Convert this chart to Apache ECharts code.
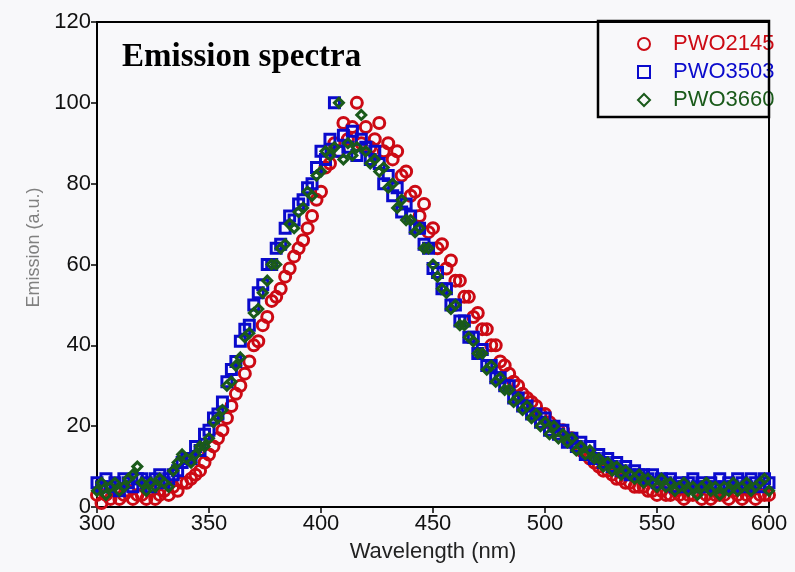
<!DOCTYPE html>
<html>
<head>
<meta charset="utf-8">
<script src="https://cdn.jsdelivr.net/npm/echarts@6/dist/echarts.min.js"></script>
<style>
html, body { margin: 0; padding: 0; background: #f8f8fa; }
#main { width: 795px; height: 572px; }
</style>
</head>
<body>
<div id="main"></div>
<script>
// wavelength (nm), one point every 2 nm
const wavelengths = [
  300, 302, 304, 306, 308, 310, 312, 314, 316, 318,
  320, 322, 324, 326, 328, 330, 332, 334, 336, 338,
  340, 342, 344, 346, 348, 350, 352, 354, 356, 358,
  360, 362, 364, 366, 368, 370, 372, 374, 376, 378,
  380, 382, 384, 386, 388, 390, 392, 394, 396, 398,
  400, 402, 404, 406, 408, 410, 412, 414, 416, 418,
  420, 422, 424, 426, 428, 430, 432, 434, 436, 438,
  440, 442, 444, 446, 448, 450, 452, 454, 456, 458,
  460, 462, 464, 466, 468, 470, 472, 474, 476, 478,
  480, 482, 484, 486, 488, 490, 492, 494, 496, 498,
  500, 502, 504, 506, 508, 510, 512, 514, 516, 518,
  520, 522, 524, 526, 528, 530, 532, 534, 536, 538,
  540, 542, 544, 546, 548, 550, 552, 554, 556, 558,
  560, 562, 564, 566, 568, 570, 572, 574, 576, 578,
  580, 582, 584, 586, 588, 590, 592, 594, 596, 598,
  600
]

const pwo2145 = [
  3, 1, 3, 2, 4, 2, 3, 4, 2, 3,
  3, 2, 4, 2, 3, 4, 3, 5, 4, 6,
  6, 7, 8, 9, 11, 13, 15, 17, 19, 22,
  25, 28, 30, 33, 36, 40, 41, 45, 47, 51,
  52, 54, 57, 59, 62, 64, 66, 69, 72, 76,
  78, 84, 85, 90, 88, 95, 91, 94, 100, 90,
  94, 89, 91, 95, 88, 90, 86, 88, 82, 83,
  77, 78, 72, 75, 68, 69, 64, 65, 59, 61,
  56, 56, 52, 52, 47, 48, 44, 44, 40, 40,
  36, 35, 33, 31, 30, 28, 27, 26, 25, 23,
  23, 21, 20, 19, 19, 17, 17, 15, 14, 13,
  12, 11, 10, 9, 9, 8, 7, 7, 6, 6,
  5, 5, 5, 4, 4, 3, 4, 3, 3, 4,
  3, 2, 3, 3, 4, 2, 3, 2, 3, 3,
  3, 2, 4, 3, 2, 3, 4, 2, 3, 3,
  3
]

const pwo3503 = [
  6, 5, 7, 5, 6, 4, 7, 6, 5, 7,
  7, 6, 5, 7, 8, 6, 7, 8, 9, 11,
  12, 12, 15, 14, 18, 19, 22, 23, 26, 31,
  34, 36, 41, 44, 45, 50, 53, 55, 60, 60,
  64, 65, 69, 72, 71, 75, 76, 79, 80, 84,
  88, 86, 91, 100, 88, 92, 89, 93, 87, 91,
  89, 86, 88, 85, 80, 82, 77, 79, 73, 75,
  72, 69, 69, 65, 64, 59, 58, 54, 54, 50,
  50, 46, 46, 42, 42, 38, 39, 35, 35, 32,
  32, 30, 30, 27, 27, 25, 25, 23, 23, 21,
  22, 19, 20, 18, 19, 16, 17, 15, 16, 13,
  15, 12, 13, 11, 12, 10, 11, 9, 10, 8,
  9, 8, 8, 7, 8, 6, 7, 6, 7, 5,
  6, 5, 6, 7, 5, 6, 5, 6, 5, 7,
  5, 6, 5, 7, 6, 5, 7, 6, 5, 7,
  6
]

const pwo3660 = [
  4, 6, 3, 5, 6, 4, 5, 7, 8, 10,
  6, 4, 6, 5, 7, 6, 5, 9, 11, 13,
  12, 11, 13, 15, 15, 17, 21, 22, 24, 30,
  31, 35, 37, 42, 43, 48, 49, 53, 56, 60,
  60, 64, 65, 70, 69, 73, 74, 78, 77, 82,
  83, 88, 87, 89, 100, 86, 90, 87, 89, 97,
  88, 85, 86, 83, 84, 79, 80, 74, 76, 71,
  71, 68, 69, 64, 64, 60, 57, 54, 53, 49,
  50, 45, 45, 42, 41, 38, 38, 34, 35, 31,
  32, 29, 29, 26, 27, 24, 25, 22, 23, 20,
  21, 18, 20, 17, 18, 16, 17, 14, 15, 13,
  14, 12, 12, 10, 11, 9, 10, 8, 9, 8,
  7, 8, 6, 7, 6, 5, 7, 5, 6, 4,
  5, 6, 4, 5, 3, 5, 6, 4, 5, 3,
  5, 4, 6, 4, 5, 6, 4, 5, 6, 7,
  4
]

const xTicks = [300, 350, 400, 450, 500, 550, 600]
const yTicks = [0, 20, 40, 60, 80, 100, 120]

const RED = '#cc0a14'
const BLUE = '#0a0acc'
const GREEN = '#1a5a1a'

const toPoints = (ys) => wavelengths.map((w, i) => [w, ys[i]])

const sans = '"Liberation Sans", Arial, sans-serif'

const myChart = echarts.init(document.getElementById('main'))

const hollow = (name, symbol, size, color, ys) => ({
  name,
  type: 'scatter',
  symbol,
  symbolSize: size,
  data: toPoints(ys),
  itemStyle: {
    color: 'transparent',
    borderColor: color,
    borderWidth: 3,
    opacity: 1
  },
  emphasis: {disabled: true},
  animation: false
})

myChart.setOption({
  backgroundColor: '#f8f8fa',
  title: {
    text: 'Emission spectra',
    left: 117,
    top: 36,
    textStyle: {
      fontFamily: '"Liberation Serif", "Times New Roman", serif',
      fontSize: 33,
      fontWeight: 'bold',
      color: '#000'
    }
  },
  legend: {
    orient: 'vertical',
    left: 632,
    top: 28,
    itemWidth: 12,
    itemHeight: 12,
    itemGap: 6,
    data: [
      {name: 'PWO2145', textStyle: {color: RED}},
      {name: 'PWO3503', textStyle: {color: BLUE}},
      {name: 'PWO3660', textStyle: {color: GREEN}}
    ],
    textStyle: {
      fontFamily: sans,
      fontSize: 22,
      lineHeight: 22,
      padding: [0, 0, 0, 18]
    }
  },
  graphic: [{
    type: 'rect',
    shape: {x: 598, y: 21, width: 171, height: 96},
    style: {fill: 'transparent', stroke: '#000', lineWidth: 2.5},
    z: 100
  }],
  grid: {
    left: 97,
    right: 26,
    top: 22,
    bottom: 65,
    show: true,
    borderColor: '#000',
    borderWidth: 2,
    backgroundColor: 'transparent'
  },
  xAxis: {
    type: 'value',
    min: xTicks[0],
    max: xTicks[xTicks.length - 1],
    interval: 50,
    name: 'Wavelength (nm)',
    nameLocation: 'middle',
    nameGap: 34,
    nameTextStyle: {fontFamily: sans, fontSize: 22, color: '#222'},
    axisLine: {lineStyle: {color: '#000', width: 2}},
    axisTick: {inside: false, length: 6, lineStyle: {color: '#000', width: 1.5}},
    axisLabel: {fontFamily: sans, fontSize: 22, color: '#111', margin: 6},
    splitLine: {show: false}
  },
  yAxis: {
    type: 'value',
    min: yTicks[0],
    max: yTicks[yTicks.length - 1],
    interval: 20,
    name: 'Emission (a.u.)',
    nameLocation: 'middle',
    nameGap: 52,
    nameRotate: 90,
    nameTextStyle: {fontFamily: sans, fontSize: 18, color: '#808080', padding: [0, 0, 0, 34]},
    axisLine: {lineStyle: {color: '#000', width: 2}},
    axisTick: {inside: false, length: 6, lineStyle: {color: '#000', width: 1.5}},
    axisLabel: {fontFamily: sans, fontSize: 22, color: '#111', margin: 6},
    splitLine: {show: false}
  },
  series: [
    hollow('PWO2145', 'circle', 11, RED, pwo2145),
    hollow('PWO3503', 'rect', 10, BLUE, pwo3503),
    hollow('PWO3660', 'diamond', 9, GREEN, pwo3660)
  ]
})
</script>
</body>
</html>
